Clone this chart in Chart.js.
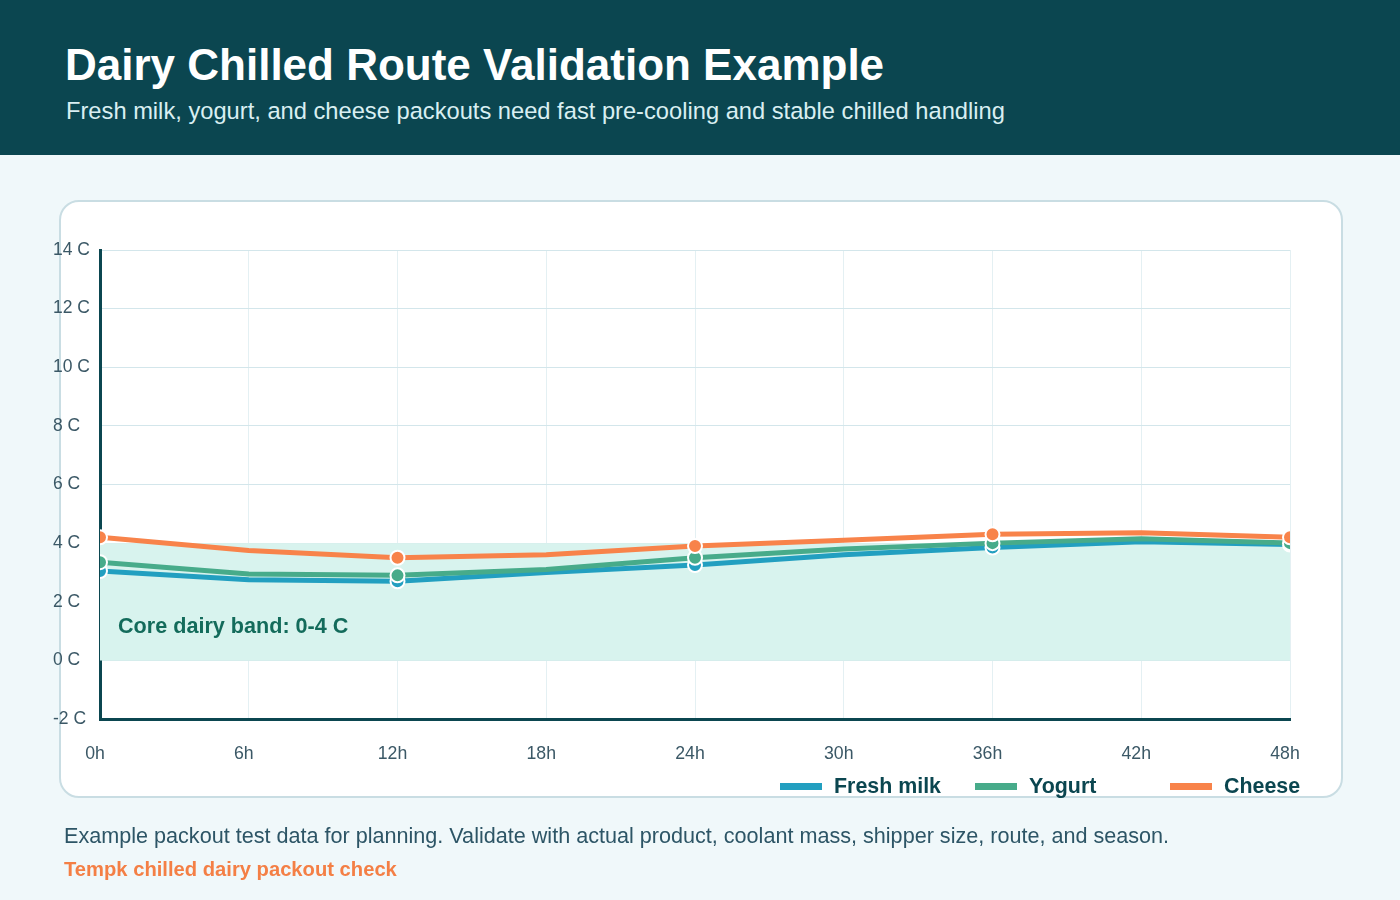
<!DOCTYPE html>
<html><head><meta charset="utf-8">
<script src="https://cdn.jsdelivr.net/npm/chart.js@4.4.1/dist/chart.umd.min.js"></script>
<style>
html,body{margin:0;padding:0;width:1400px;height:900px;overflow:hidden;background:#f0f8fa;font-family:"Liberation Sans",Arial,sans-serif;}
#header{position:absolute;left:0;top:0;width:1400px;height:155px;background:#0b4650;}
#title{position:absolute;left:65px;top:40px;font-size:44px;font-weight:bold;color:#ffffff;white-space:nowrap;}
#subtitle{position:absolute;left:66px;top:98px;font-size:23.7px;color:#d9eff2;white-space:nowrap;}
#card{position:absolute;left:59px;top:200px;width:1280px;height:594px;background:#fff;border:2px solid #c9dde3;border-radius:20px;}
#cv{position:absolute;left:0;top:0;width:1400px;height:900px;}
#legend{position:absolute;left:780px;top:773px;height:26px;display:flex;}
.li{width:195px;display:flex;align-items:center;font-size:21.4px;font-weight:bold;color:#0b4650;white-space:nowrap;}
.sw{width:42px;height:7px;margin-right:12px;}
#note{position:absolute;left:64px;top:823px;font-size:21.6px;color:#2d5566;white-space:nowrap;}
#brand{position:absolute;left:64px;top:858px;font-size:20.2px;font-weight:bold;color:#f47f45;white-space:nowrap;}
</style></head>
<body>
<div id="header"><div id="title">Dairy Chilled Route Validation Example</div>
<div id="subtitle">Fresh milk, yogurt, and cheese packouts need fast pre-cooling and stable chilled handling</div></div>
<div id="card"></div>
<canvas id="cv" width="1400" height="900"></canvas>
<div id="legend"></div>
<div id="note">Example packout test data for planning. Validate with actual product, coolant mass, shipper size, route, and season.</div>
<div id="brand">Tempk chilled dairy packout check</div>
<script>
const hours = [0, 6, 12, 18, 24, 30, 36, 42, 48];
const markerHours = [0, 12, 24, 36, 48];
const xTicks = [0, 6, 12, 18, 24, 30, 36, 42, 48];
const yTicks = [-2, 0, 2, 4, 6, 8, 10, 12, 14];
const seriesNames = ["Fresh milk", "Yogurt", "Cheese"];
const freshMilk = [3.05, 2.75, 2.7, 3.0, 3.25, 3.6, 3.85, 4.05, 3.95];
const yogurt = [3.35, 2.95, 2.9, 3.1, 3.5, 3.8, 4.0, 4.15, 4.0];
const cheese = [4.2, 3.75, 3.5, 3.6, 3.9, 4.1, 4.3, 4.35, 4.2];
const bandLow = 0, bandHigh = 4;
const bandLabel = "Core dairy band: 0-4 C";
const colors = ["#229fc0", "#47ab8a", "#f8834a"];

const toPts = arr => arr.map((v, i) => ({x: hours[i], y: v}));
const series = [freshMilk, yogurt, cheese];
const radii = hours.map(h => markerHours.includes(h) ? 7 : 0);

const datasets = series.map((s, i) => ({
  label: seriesNames[i], data: toPts(s), borderColor: colors[i], backgroundColor: colors[i],
  borderWidth: 5, tension: 0, pointRadius: radii, pointHoverRadius: radii,
  pointBackgroundColor: colors[i], pointBorderColor: "#ffffff", pointBorderWidth: 2,
  fill: false, order: 3 - i
}));
datasets.push({
  label: "band", data: [{x: xTicks[0], y: bandHigh}, {x: xTicks[xTicks.length-1], y: bandHigh}],
  borderWidth: 0, pointRadius: 0, backgroundColor: "#d8f3ee", fill: {value: bandLow}, order: 10
});

const bandText = {
  id: "bandText",
  afterDatasetsDraw(chart) {
    const {ctx, chartArea, scales} = chart;
    ctx.save();
    ctx.font = "bold 21.6px 'Liberation Sans', Arial, sans-serif";
    ctx.fillStyle = "#136b5b";
    ctx.textBaseline = "middle";
    ctx.fillText(bandLabel, chartArea.left + 18, scales.y.getPixelForValue((bandLow + bandHigh) / 2 - 0.88));
    ctx.restore();
  }
};

new Chart(document.getElementById("cv"), {
  type: "line",
  data: {datasets},
  plugins: [bandText],
  options: {
    responsive: false, animation: false, events: [],
    layout: {padding: {left: 53, top: 250, right: 110, bottom: 121}},
    plugins: {legend: {display: false}, tooltip: {enabled: false}},
    scales: {
      x: {
        type: "linear", min: 0, max: 48,
        afterBuildTicks: s => { s.ticks = xTicks.map(v => ({value: v})); },
        afterFit: s => { s.height = 60; },
        grid: {color: "#e4f0f3", lineWidth: 1, drawTicks: false},
        border: {color: "#0b4650", width: 3},
        ticks: {padding: 24, labelOffset: -5, color: "#3b5866", font: {size: 17.7, family: "'Liberation Sans', Arial, sans-serif"},
          callback: v => v + "h", maxRotation: 0, autoSkip: false}
      },
      y: {
        min: -2, max: 14,
        afterBuildTicks: s => { s.ticks = yTicks.map(v => ({value: v})); },
        afterFit: s => { s.width = 47; },
        grid: {color: "#d3e6eb", lineWidth: 1, drawTicks: false},
        border: {color: "#0b4650", width: 3},
        ticks: {crossAlign: "far", padding: 0, color: "#3b5866", font: {size: 17.5, family: "'Liberation Sans', Arial, sans-serif"},
          callback: v => v + " C"}
      }
    }
  }
});

const leg = document.getElementById("legend");
seriesNames.forEach((n, i) => {
  const d = document.createElement("div"); d.className = "li";
  d.innerHTML = '<span class="sw" style="background:' + colors[i] + '"></span>' + n;
  leg.appendChild(d);
});
</script>
</body></html>
